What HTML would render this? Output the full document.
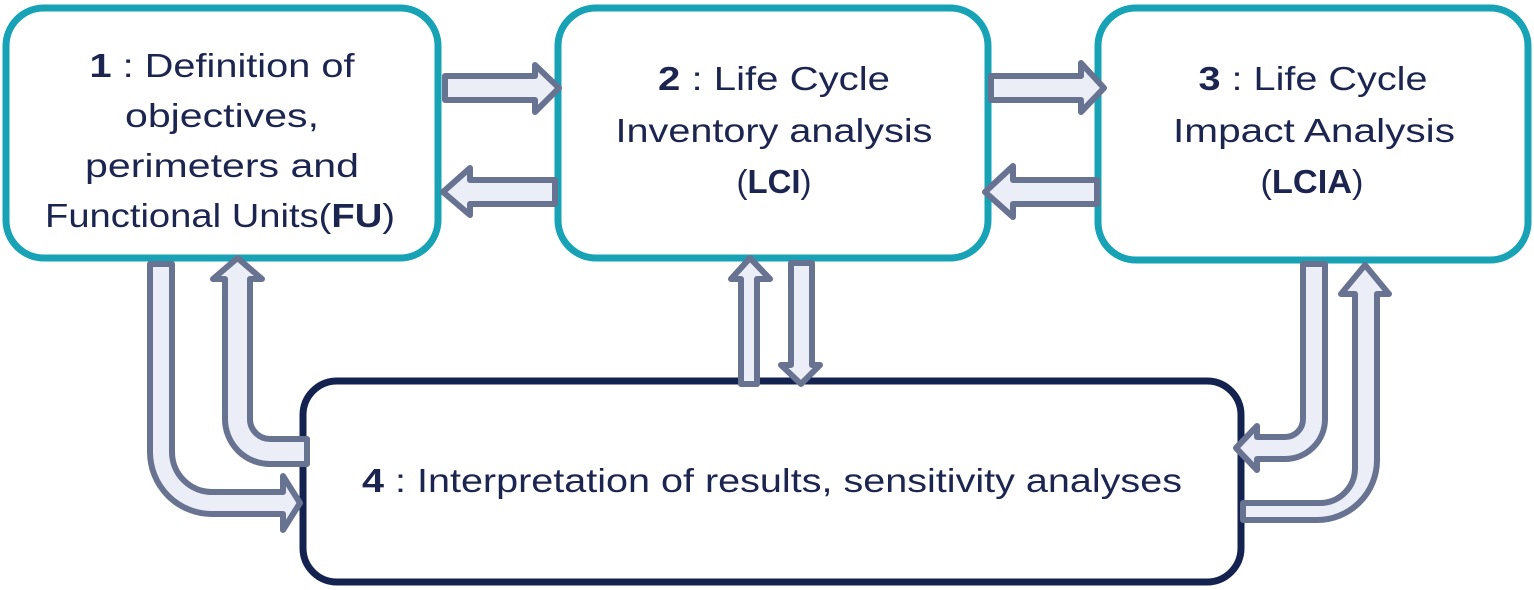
<!DOCTYPE html>
<html>
<head>
<meta charset="utf-8">
<style>
  html, body { margin: 0; padding: 0; background: #ffffff; }
  body { width: 1534px; height: 590px; overflow: hidden; }
  svg { display: block; }
  text { font-family: "Liberation Sans", "DejaVu Sans", sans-serif; fill: #1b2550; font-size: 33px; }
  .b { font-weight: bold; }
</style>
</head>
<body>
<svg width="1534" height="590" viewBox="0 0 1534 590" xmlns="http://www.w3.org/2000/svg">
  <rect x="0" y="0" width="1534" height="590" fill="#ffffff"/>

  <!-- Boxes -->
  <rect x="6" y="8" width="432" height="250" rx="38" ry="38" fill="#ffffff" stroke="#18a2b6" stroke-width="7"/>
  <rect x="558" y="8" width="430" height="250" rx="38" ry="38" fill="#ffffff" stroke="#18a2b6" stroke-width="7"/>
  <rect x="1098" y="8" width="430" height="252" rx="38" ry="38" fill="#ffffff" stroke="#18a2b6" stroke-width="7"/>
  <rect x="303" y="381" width="938" height="201" rx="34" ry="34" fill="#ffffff" stroke="#13224f" stroke-width="7"/>

  <!-- Text box 1 -->
  <text x="222" y="77" text-anchor="middle" textLength="265" lengthAdjust="spacingAndGlyphs"><tspan class="b">1</tspan> : Definition of</text>
  <text x="222" y="127" text-anchor="middle" textLength="194" lengthAdjust="spacingAndGlyphs">objectives,</text>
  <text x="222" y="177" text-anchor="middle" textLength="274" lengthAdjust="spacingAndGlyphs">perimeters and</text>
  <text x="220" y="227" text-anchor="middle" textLength="350" lengthAdjust="spacingAndGlyphs">Functional Units(<tspan class="b">FU</tspan>)</text>

  <!-- Text box 2 -->
  <text x="774" y="90" text-anchor="middle" textLength="232" lengthAdjust="spacingAndGlyphs"><tspan class="b">2</tspan> : Life Cycle</text>
  <text x="774" y="142" text-anchor="middle" textLength="317" lengthAdjust="spacingAndGlyphs">Inventory analysis</text>
  <text x="774" y="193" text-anchor="middle" textLength="75" lengthAdjust="spacingAndGlyphs">(<tspan class="b">LCI</tspan>)</text>

  <!-- Text box 3 -->
  <text x="1313" y="90" text-anchor="middle" textLength="229" lengthAdjust="spacingAndGlyphs"><tspan class="b">3</tspan> : Life Cycle</text>
  <text x="1314" y="142" text-anchor="middle" textLength="282" lengthAdjust="spacingAndGlyphs">Impact Analysis</text>
  <text x="1312" y="193" text-anchor="middle" textLength="103" lengthAdjust="spacingAndGlyphs">(<tspan class="b">LCIA</tspan>)</text>

  <!-- Text box 4 -->
  <text x="772" y="492" text-anchor="middle" textLength="820" lengthAdjust="spacingAndGlyphs"><tspan class="b">4</tspan> : Interpretation of results, sensitivity analyses</text>

  <!-- Arrows -->
  <g fill="#eceef7" stroke="#687291" stroke-width="6" stroke-linejoin="round">
    <!-- 1 -> 2 -->
    <polygon points="445,76 535,76 535,65 559,88 535,112 535,100 445,100"/>
    <!-- 2 -> 1 -->
    <polygon points="555,180 470,180 470,168 443,192 470,215 470,204 555,204"/>
    <!-- 2 -> 3 -->
    <polygon points="991,76 1081,76 1081,63 1104,88 1081,112 1081,100 991,100"/>
    <!-- 3 -> 2 -->
    <polygon points="1097,180 1013,180 1013,166 985,192 1013,217 1013,204 1097,204"/>

    <!-- 4 -> 2 (up) -->
    <polygon points="741,384 741,279 731,279 750,258 770,279 757,279 757,384"/>
    <!-- 2 -> 4 (down) -->
    <polygon points="791,263 812,263 812,365 820,365 801,384 781,365 791,365"/>

    <!-- A: 1 -> 4 (down then right) -->
    <path d="M 150 264 L 150 452 A 62 62 0 0 0 212 514 L 283 514 L 283 530 L 300 503 L 283 476 L 283 492 L 212 492 A 40 40 0 0 1 172 452 L 172 264 Z"/>
    <!-- B: 4 -> 1 (left then up) -->
    <path d="M 307 439 L 270 439 A 20 20 0 0 1 250 419 L 250 279 L 262 279 L 237.5 258 L 213 279 L 225 279 L 225 419 A 45 45 0 0 0 270 464 L 307 464 Z"/>
    <!-- C: 3 -> 4 (down then left) -->
    <path d="M 1303 264 L 1325 264 L 1325 419 A 40 40 0 0 1 1285 459 L 1257 459 L 1257 470 L 1236 448 L 1257 426 L 1257 437 L 1285 437 A 18 18 0 0 0 1303 419 Z"/>
    <!-- D: 4 -> 3 (right then up) -->
    <path d="M 1243 503 L 1320 503 A 35 35 0 0 0 1355 468 L 1355 294 L 1341 294 L 1365 265 L 1389 294 L 1377 294 L 1377 460 A 60 60 0 0 1 1317 520 L 1243 520 Z"/>
  </g>
</svg>
</body>
</html>
